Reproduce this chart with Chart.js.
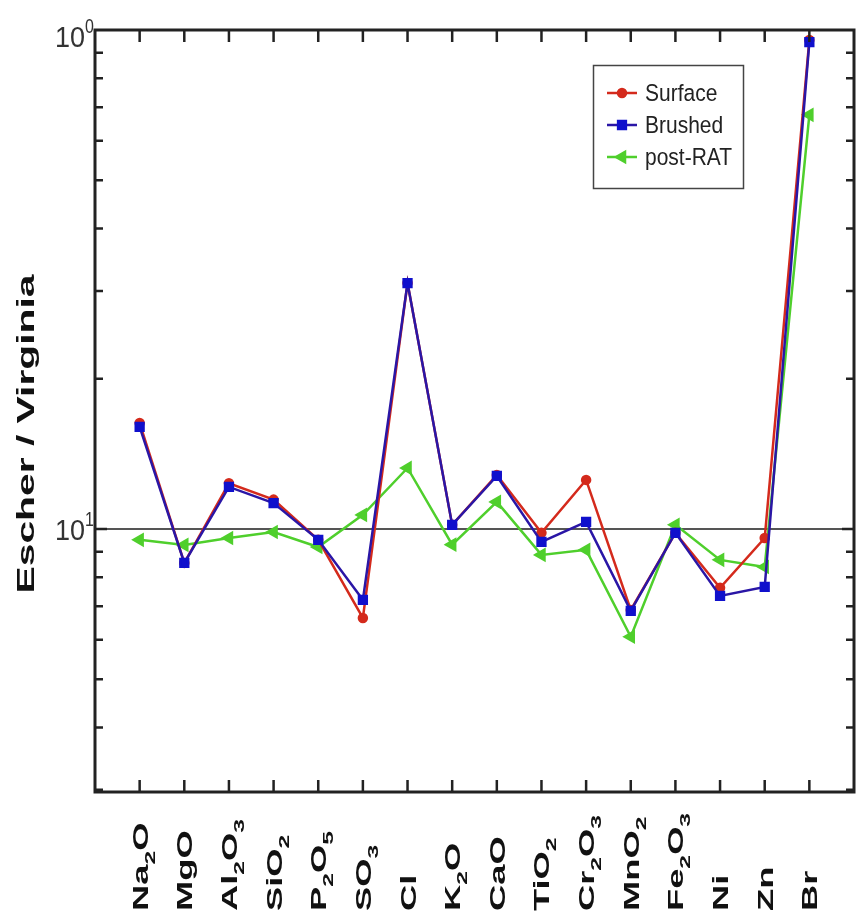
<!DOCTYPE html>
<html><head><meta charset="utf-8">
<script src="https://cdn.jsdelivr.net/npm/chart.js@4/dist/chart.umd.min.js"></script>
<style>html,body{margin:0;padding:0;background:#fff}canvas{display:block}</style>
</head><body>
<canvas id="c" width="857" height="915"></canvas>
<script>
// ---- data ----
const categories = ['Na2O','MgO','Al2O3','SiO2','P2O5','SO3','Cl','K2O','CaO','TiO2','Cr2O3','MnO2','Fe2O3','Ni','Zn','Br'];
const surface = [0.163, 0.0855, 0.1235, 0.1145, 0.0951, 0.0663, 0.311, 0.1019, 0.1283, 0.0982, 0.1254, 0.0688, 0.0982, 0.0762, 0.0959, 0.955];
const brushed = [0.1601, 0.0855, 0.1214, 0.1127, 0.0951, 0.0721, 0.311, 0.1019, 0.1277, 0.0942, 0.1033, 0.0685, 0.0982, 0.0734, 0.0765, 0.946];
const postRAT = [0.0951, 0.0929, 0.0959, 0.0986, 0.0920, 0.1067, 0.1325, 0.0930, 0.1133, 0.0887, 0.0908, 0.0608, 0.1019, 0.0867, 0.0839, 0.676];
const seriesNames = ['Surface', 'Brushed', 'post-RAT'];
const yTickValues = [1, 0.1];
const yTickBase = ['10', '10'];
const yTickExp = ['0', '1'];
const yTitle = 'Escher / Virginia';
const refLineValue = 0.1;

const COL = {
  red: '#d42a1c', blue: '#2a16a6', blueM: '#1010cc', green: '#4fcf2c', axis: '#222'
};
const toXY = arr => arr.map((v, i) => ({x: i, y: v}));

function txt(ctx, s, x, y, font, sx, sy, align, color) {
  ctx.save();
  ctx.translate(x, y);
  ctx.scale(sx, sy);
  ctx.font = font;
  ctx.textAlign = align || 'left';
  ctx.textBaseline = 'alphabetic';
  ctx.fillStyle = color || '#111';
  ctx.fillText(s, 0, 0);
  ctx.restore();
}

const decor = {
  id: 'decor',
  beforeDatasetsDraw(chart) {
    const {ctx, chartArea: a, scales: {y}} = chart;
    const yy = y.getPixelForValue(refLineValue);
    ctx.save();
    ctx.strokeStyle = '#555';
    ctx.lineWidth = 2;
    ctx.beginPath(); ctx.moveTo(a.left, yy); ctx.lineTo(a.right, yy); ctx.stroke();
    ctx.restore();
  },
  afterDatasetsDraw(chart) {
    const {ctx, chartArea: a, scales: {x, y}} = chart;
    ctx.save();
    // box
    ctx.strokeStyle = COL.axis;
    ctx.lineWidth = 3;
    ctx.strokeRect(a.left, a.top, a.right - a.left, a.bottom - a.top);
    // x ticks top/bottom
    ctx.lineWidth = 2.5;
    ctx.beginPath();
    categories.forEach((c, i) => {
      const px = x.getPixelForValue(i);
      ctx.moveTo(px, a.bottom); ctx.lineTo(px, a.bottom - 12);
      ctx.moveTo(px, a.top); ctx.lineTo(px, a.top + 12);
    });
    // y minor ticks (log decades)
    const lo = Math.floor(Math.log10(y.min)), hi = Math.ceil(Math.log10(y.max));
    for (let d = lo; d < hi; d++) {
      for (let m = 1; m <= 9; m++) {
        const v = m * Math.pow(10, d);
        if (v < y.min || v > y.max) continue;
        const py = y.getPixelForValue(v);
        const len = (m === 1) ? 12 : 8;
        ctx.moveTo(a.left, py); ctx.lineTo(a.left + len, py);
        ctx.moveTo(a.right, py); ctx.lineTo(a.right - len, py);
      }
    }
    ctx.stroke();
    ctx.restore();

    // y tick labels
    yTickValues.forEach((v, i) => {
      const py = Math.max(y.getPixelForValue(v), a.top + 6);
      txt(ctx, yTickBase[i], 85, py + 11, '27px "Liberation Sans", Arial, sans-serif', 1, 1.1, 'right', '#333');
      txt(ctx, yTickExp[i], 85, py - 3, '16px "Liberation Sans", Arial, sans-serif', 1, 1.3, 'left', '#333');
    });

    // y title (rotated)
    ctx.save();
    ctx.translate(34, 434);
    ctx.rotate(-Math.PI / 2);
    ctx.scale(1.7, 1);
    ctx.font = 'bold 24px "Liberation Sans", Arial, sans-serif';
    ctx.textAlign = 'center';
    ctx.textBaseline = 'alphabetic';
    ctx.fillStyle = '#111';
    ctx.fillText(yTitle, 0, 0);
    ctx.restore();

    // x labels (rotated, with subscripts)
    const fs = 22, sub = 15;
    categories.forEach((c, i) => {
      const px = x.getPixelForValue(i);
      ctx.save();
      ctx.translate(px + 8, 911);
      ctx.rotate(-Math.PI / 2);
      ctx.scale(1.65, 1);
      ctx.fillStyle = '#111';
      ctx.textBaseline = 'alphabetic';
      ctx.textAlign = 'left';
      let u = 0;
      c.split(/(\d+)/).filter(s => s.length).forEach(part => {
        const isSub = /^\d+$/.test(part);
        ctx.font = 'bold ' + (isSub ? sub : fs) + 'px "Liberation Sans", Arial, sans-serif';
        ctx.fillText(part, u, isSub ? 7 : 0);
        u += ctx.measureText(part).width;
      });
      ctx.restore();
    });

    // legend
    ctx.save();
    ctx.fillStyle = '#fff';
    ctx.fillRect(593, 65, 150, 123);
    ctx.strokeStyle = '#444';
    ctx.lineWidth = 1.5;
    ctx.strokeRect(593.5, 65.5, 150, 123);
    const rows = [93, 125, 157];
    chart.data.datasets.forEach((ds) => {
      const idx = seriesNames.indexOf(ds.label);
      const ry = rows[idx];
      ctx.strokeStyle = ds.borderColor;
      ctx.lineWidth = ds.borderWidth;
      ctx.beginPath(); ctx.moveTo(607, ry); ctx.lineTo(637, ry); ctx.stroke();
      ctx.fillStyle = ds.pointBackgroundColor;
      ctx.strokeStyle = ds.pointBackgroundColor;
      Chart.helpers.drawPoint(ctx, {
        pointStyle: ds.pointStyle, rotation: ds.pointRotation || 0, radius: ds.pointRadius, borderWidth: 1
      }, 622, ry);
      txt(ctx, ds.label, 645, ry + 8, '21px "Liberation Sans", Arial, sans-serif', 1, 1.1, 'left', '#222');
    });
    ctx.restore();
  }
};

new Chart(document.getElementById('c'), {
  type: 'line',
  data: {
    datasets: [
      {label: seriesNames[1], data: toXY(brushed), borderColor: COL.blue, borderWidth: 2.5,
       pointStyle: 'rect', pointRadius: 5.5, pointBackgroundColor: COL.blueM, pointBorderColor: COL.blueM, order: 0},
      {label: seriesNames[0], data: toXY(surface), borderColor: COL.red, borderWidth: 2.5,
       pointStyle: 'circle', pointRadius: 4, pointBackgroundColor: COL.red, pointBorderColor: COL.red, order: 1},
      {label: seriesNames[2], data: toXY(postRAT), borderColor: COL.green, borderWidth: 2.5,
       pointStyle: 'triangle', pointRotation: -90, pointRadius: 6, pointBackgroundColor: COL.green, pointBorderColor: COL.green, order: 2}
    ]
  },
  options: {
    responsive: false,
    animation: false,
    devicePixelRatio: 1,
    layout: {autoPadding: false, padding: {left: 95, top: 30, right: 3, bottom: 123}},
    plugins: {legend: {display: false}, tooltip: {enabled: false}},
    elements: {line: {tension: 0}},
    scales: {
      x: {type: 'linear', min: -1, max: 16, display: false},
      y: {type: 'logarithmic', min: 0.0297, max: 1, display: false}
    }
  },
  plugins: [decor]
});
</script>
</body></html>
